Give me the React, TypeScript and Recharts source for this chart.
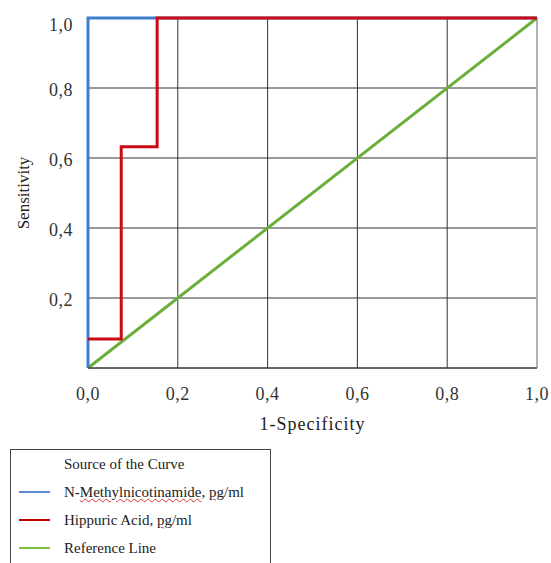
import React from 'react';
import {
  LineChart,
  Line,
  XAxis,
  YAxis,
  CartesianGrid,
  ReferenceLine,
} from 'recharts';

// ROC curve points (1-specificity, sensitivity)
const methylFpr = [0, 0, 1];
const methylTpr = [0, 1, 1];
const hippuricFpr = [0, 0.074, 0.074, 0.154, 0.154, 1];
const hippuricTpr = [0.083, 0.083, 0.632, 0.632, 1, 1];
const referenceFpr = [0, 1];
const referenceTpr = [0, 1];

const axisTicks = [0, 0.2, 0.4, 0.6, 0.8, 1];

const legendItems = [
  { label: 'N-Methylnicotinamide, pg/ml', color: '#5b8bd6', spell: ['N-', 'Methylnicotinamide', ', ', 'pg', '/ml'] },
  { label: 'Hippuric Acid, pg/ml', color: '#c00000', spell: ['Hippuric Acid, ', '', '', 'pg', '/ml'] },
  { label: 'Reference Line', color: '#7cc242', spell: null },
];

const toPoints = (xs: number[], ys: number[]) => xs.map((x, i) => ({ x, y: ys[i] }));

const methylData = toPoints(methylFpr, methylTpr);
const hippuricData = toPoints(hippuricFpr, hippuricTpr);
const referenceData = toPoints(referenceFpr, referenceTpr);

const fmt = (v: number) => v.toFixed(1).replace('.', ',');

const FONT = '"Liberation Serif", "Times New Roman", serif';

const squiggle: React.CSSProperties = {
  textDecorationLine: 'underline',
  textDecorationStyle: 'wavy',
  textDecorationColor: '#e03030',
  textDecorationThickness: '1px',
};

// y tick: top label sits a little below its gridline, like the original
const YTick = ({ x, y, payload }: any) => {
  if (payload.value === 0) return null;
  const dy = payload.value === 1 ? 6.5 : 1.5;
  return (
    <text
      x={x}
      y={y + dy}
      textAnchor="end"
      dominantBaseline="central"
      fill="#333"
      fontSize={18}
      fontFamily={FONT}
      letterSpacing={0.5}
    >
      {fmt(payload.value)}
    </text>
  );
};

export default function App() {
  return (
    <div
      style={{
        position: 'absolute',
        left: 0,
        top: 0,
        width: 551,
        height: 563,
        overflow: 'hidden',
        background: '#fff',
        fontFamily: FONT,
      }}
    >
      <LineChart
        width={551}
        height={445}
        margin={{ top: 18, right: 14, bottom: 7, left: 0 }}
      >
        <CartesianGrid stroke="#333" strokeWidth={1} />
        <XAxis
          type="number"
          dataKey="x"
          domain={[0, 1]}
          ticks={axisTicks}
          tickFormatter={fmt}
          height={70}
          tickSize={0}
          tickMargin={19}
          axisLine={{ stroke: '#333' }}
          tick={{ fill: '#333', fontSize: 18, fontFamily: FONT, letterSpacing: 0.5 }}
          label={{
            value: '1-Specificity',
            position: 'insideBottom',
            offset: 8,
            fill: '#222',
            fontSize: 18,
            fontFamily: FONT,
            letterSpacing: 1,
          }}
        />
        <YAxis
          type="number"
          dataKey="y"
          domain={[0, 1]}
          ticks={axisTicks}
          width={88}
          tickSize={0}
          tickMargin={15}
          axisLine={false}
          tick={<YTick />}
          label={{
            content: ({ viewBox }: any) => {
              const cx = viewBox.x + 23;
              const cy = viewBox.y + viewBox.height / 2;
              return (
                <text
                  x={cx}
                  y={cy}
                  transform={`rotate(-90 ${cx} ${cy})`}
                  textAnchor="middle"
                  dominantBaseline="central"
                  fill="#222"
                  fontSize={17}
                  fontFamily={FONT}
                >
                  Sensitivity
                </text>
              );
            },
          }}
        />
        <ReferenceLine x={1} stroke="#bbb" strokeWidth={1.5} ifOverflow="visible" />
        <Line
          data={referenceData}
          dataKey="y"
          type="linear"
          stroke="#6aaf3a"
          strokeWidth={3}
          dot={false}
          isAnimationActive={false}
        />
        <Line
          data={methylData}
          dataKey="y"
          type="linear"
          stroke="#3c7fcc"
          strokeWidth={3}
          dot={false}
          isAnimationActive={false}
        />
        <Line
          data={hippuricData}
          dataKey="y"
          type="linear"
          stroke="#cc0a14"
          strokeWidth={3}
          dot={false}
          isAnimationActive={false}
        />
      </LineChart>

      <div
        style={{
          position: 'absolute',
          left: 10,
          top: 449,
          width: 259,
          height: 140,
          border: '1px solid #444',
          fontSize: 15,
          lineHeight: '18px',
          color: '#222',
        }}
      >
        <div style={{ position: 'absolute', left: 53, top: 5 }}>Source of the Curve</div>
        {legendItems.map((item, i) => (
          <div key={item.label} style={{ position: 'absolute', left: 0, top: 33 + i * 28, height: 18, width: 259 }}>
            <div
              style={{
                position: 'absolute',
                left: 8,
                top: 8,
                width: 31,
                height: 2,
                background: item.color,
              }}
            />
            <div style={{ position: 'absolute', left: 53, top: 0, whiteSpace: 'nowrap' }}>
              {item.spell ? (
                <>
                  {item.spell[0]}
                  {item.spell[1] && <span style={squiggle}>{item.spell[1]}</span>}
                  {item.spell[2]}
                  <span style={squiggle}>{item.spell[3]}</span>
                  {item.spell[4]}
                </>
              ) : (
                item.label
              )}
            </div>
          </div>
        ))}
      </div>
    </div>
  );
}
